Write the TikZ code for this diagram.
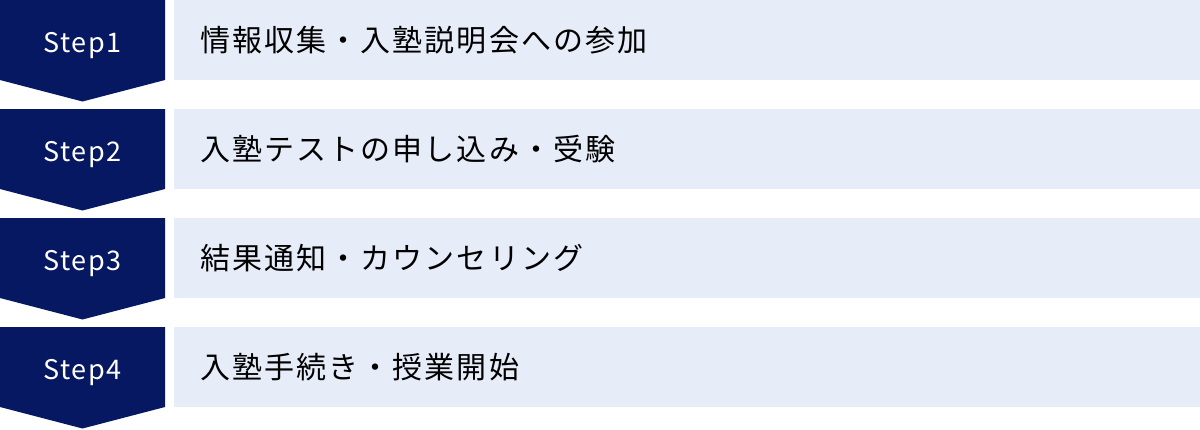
\documentclass[tikz,border=0pt]{standalone}
\usepackage{fontspec}
\setmainfont{Noto Sans CJK JP}
\newfontfamily\jpfont[LetterSpace=7]{Noto Sans CJK JP}
\newfontfamily\stepfont[LetterSpace=6]{Noto Sans CJK JP}
\definecolor{navy}{RGB}{7,24,98}
\definecolor{lav}{RGB}{230,236,248}
\tikzset{
  chev/.style={fill=navy},
  stepbox/.style={text=white, font=\stepfont\fontsize{27}{27}\selectfont, inner sep=0pt, anchor=base},
  bar/.style={fill=lav, anchor=north west, minimum width=1026pt, minimum height=80pt, inner sep=0pt},
  label/.style={text=black, font=\jpfont\fontsize{30}{30}\selectfont, anchor=west, inner sep=0pt}
}
\begin{document}
\begin{tikzpicture}[x=1pt,y=-1pt]
\useasboundingbox (0,0) rectangle (1200,429);
\foreach \i/\t/\txt in {1/0/情報収集・入塾説明会への参加, 2/109/入塾テストの申し込み・受験, 3/218/結果通知・カウンセリング, 4/327/入塾手続き・授業開始}{
  \fill[chev] (0,\t) -- (165,\t) -- (165,\t+80) -- (82.5,\t+101.5) -- (0,\t+80) -- cycle;
  \node[stepbox] (s\i) at (82.5,\t+52.3) {Step\i};
  \node[bar] (b\i) at (174,\t) {};
  \node[label] (l\i) at (200,\t+40) {\txt};
}
\end{tikzpicture}
\end{document}
